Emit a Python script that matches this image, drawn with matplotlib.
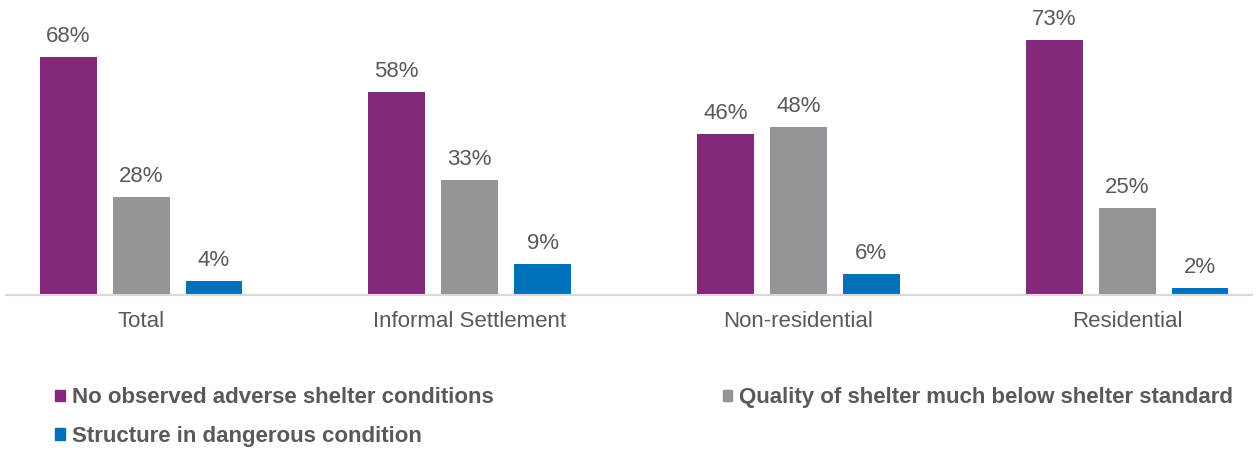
import matplotlib.pyplot as plt
from matplotlib.patches import Patch


#######################################################
### Data

categories = ["Total", "Informal Settlement", "Non-residential", "Residential"]

no_adverse = [68, 58, 46, 73]
below_standard = [28, 33, 48, 25]
dangerous = [4, 9, 6, 2]

series_names = [
    "No observed adverse shelter conditions",
    "Quality of shelter much below shelter standard",
    "Structure in dangerous condition",
]

colors = ["#83297A", "#949598", "#0070BA"]
text_color = "#595959"


#######################################################
### Plot

plt.rcParams["font.family"] = ["Liberation Sans", "DejaVu Sans"]

fig = plt.figure(figsize=(12.58, 4.51), dpi=100)
ax = fig.add_axes([6 / 1258, 0.3459, 1246 / 1258, 0.6541])

x = list(range(len(categories)))
offset = 0.222
width = 0.173

all_series = [no_adverse, below_standard, dangerous]

for k, values in enumerate(all_series):
    xs = [i + (k - 1) * offset for i in x]
    bars = ax.bar(xs, values, width=width, color=colors[k],
                  label=series_names[k])
    for b, v in zip(bars, values):
        ax.annotate(f"{v}%",
                    (b.get_x() + b.get_width() / 2, v),
                    xytext=(0, 7), textcoords="offset points",
                    ha="center", va="bottom",
                    fontsize=16, color=text_color)

ax.set_xlim(-0.411, 3.38)
ax.set_ylim(0, 84.3)

ax.set_xticks(x)
ax.set_xticklabels(categories, fontsize=16, color=text_color)
ax.tick_params(axis="x", length=0, pad=11.5)
ax.set_yticks([])

for s in ["top", "left", "right"]:
    ax.spines[s].set_visible(False)
ax.spines["bottom"].set_color("#d9d9d9")
ax.spines["bottom"].set_linewidth(1.5)
ax.patch.set_alpha(0)

# column order puts grey in the second column
handles = [
    Patch(color=colors[0], label=series_names[0]),
    Patch(color=colors[2], label=series_names[2]),
    Patch(color=colors[1], label=series_names[1]),
]

leg = fig.legend(
    handles=handles,
    loc="upper left",
    bbox_to_anchor=(0.044, 0.141),
    ncol=2,
    frameon=False,
    handlelength=0.43,
    handleheight=0.43,
    handletextpad=0.32,
    columnspacing=10.3,
    labelspacing=0.78,
    borderaxespad=0,
    borderpad=0,
    prop={"weight": "bold", "size": 16},
)
for t in leg.get_texts():
    t.set_color(text_color)

fig.savefig("out.png", dpi=100)
